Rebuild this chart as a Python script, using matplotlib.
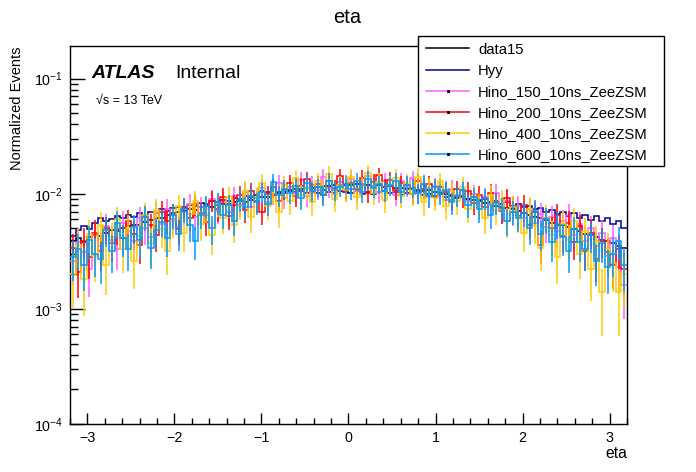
import numpy as np
import matplotlib
matplotlib.use("Agg")
import matplotlib.pyplot as plt
from matplotlib.lines import Line2D
from matplotlib.patches import Rectangle
from matplotlib.ticker import LogLocator, NullFormatter, FixedLocator

plt.rcParams['font.family'] = ['Liberation Sans', 'DejaVu Sans']
plt.rcParams['mathtext.fontset'] = 'custom'
plt.rcParams['mathtext.rm'] = 'Liberation Sans'
plt.rcParams['mathtext.it'] = 'Liberation Sans:italic'

# ---- data (normalized events, units of 1e-3), 100 bins in eta [-3.2, 3.2]
eta_lo, eta_hi, n_bins = -3.2, 3.2, 100

data15 = [3.9, 4.1, 3.8, 4.2, 4.4, 4.3, 4.6, 4.8, 4.7, 5.0,
          5.2, 5.4, 5.3, 5.7, 5.9, 6.2, 6.1, 6.5, 6.8, 7.0,
          7.1, 7.3, 7.2, 7.6, 7.8, 7.7, 8.0, 8.2, 8.1, 8.4,
          8.6, 8.5, 8.9, 9.2, 9.4, 9.3, 9.8, 10.1, 10.3, 10.6,
          10.9, 11.0, 11.3, 11.2, 11.5, 11.7, 11.6, 11.9, 11.8, 12.0,
          11.9, 12.1, 11.8, 11.9, 11.7, 11.8, 11.5, 11.6, 11.3, 11.2,
          11.0, 11.1, 10.8, 10.6, 10.7, 10.3, 10.1, 9.9, 9.6, 9.4,
          9.3, 9.0, 8.8, 8.6, 8.3, 8.1, 7.9, 7.7, 7.5, 7.3,
          7.1, 6.8, 6.6, 6.3, 6.1, 5.9, 5.6, 5.4, 5.3, 5.1,
          4.9, 4.7, 4.5, 4.4, 4.2, 4.0, 3.9, 3.7, 3.5, 3.4]

hyy = [4.3, 4.8, 5.2, 4.9, 5.6, 6.2, 5.8, 6.0, 6.4, 6.1,
       6.5, 6.3, 6.8, 6.6, 7.0, 6.8, 7.3, 7.1, 7.5, 7.7,
       7.6, 8.0, 7.8, 8.3, 8.1, 8.6, 8.4, 8.9, 8.7, 9.2,
       9.0, 9.5, 9.3, 9.8, 10.6, 10.3, 10.0, 10.4, 10.2, 10.7,
       10.3, 10.6, 10.1, 10.5, 10.2, 10.7, 10.4, 10.1, 10.6, 10.3,
       10.2, 10.5, 10.0, 10.4, 9.9, 10.3, 10.6, 10.1, 10.4, 9.8,
       10.2, 9.9, 10.3, 9.7, 10.0, 9.6, 9.9, 9.4, 9.7, 9.2,
       9.5, 9.0, 9.3, 8.8, 9.0, 8.5, 8.7, 8.2, 8.4, 7.9,
       8.1, 7.6, 7.8, 7.3, 7.5, 7.0, 7.2, 6.7, 6.9, 6.4,
       6.8, 6.2, 6.6, 5.9, 6.4, 5.8, 6.1, 5.5, 5.8, 5.0]

hino150 = [2.6, 3.8, 3.1, 2.2, 4.4, 3.5, 5.2, 4.0, 3.3, 5.6,
           4.7, 3.9, 6.1, 5.0, 4.2, 6.8, 5.5, 7.4, 6.0, 5.1,
           7.0, 8.2, 6.3, 7.7, 6.6, 9.0, 7.1, 8.5, 6.9, 9.6,
           8.0, 10.4, 7.6, 9.1, 11.2, 8.4, 10.0, 12.3, 9.2, 11.5,
           10.2, 13.1, 9.6, 12.0, 10.8, 14.0, 11.3, 9.9, 12.6, 11.0,
           13.5, 10.5, 12.2, 14.4, 11.6, 10.3, 13.0, 11.9, 9.8, 12.8,
           11.4, 13.6, 10.1, 12.0, 9.4, 11.7, 10.6, 8.9, 11.1, 9.7,
           10.8, 8.6, 9.9, 7.8, 9.3, 8.2, 10.1, 7.3, 8.7, 6.9,
           7.9, 6.2, 7.4, 5.6, 6.7, 5.1, 6.3, 4.7, 5.8, 6.6,
           4.4, 5.5, 3.9, 5.0, 3.5, 4.6, 2.9, 4.1, 2.3, 1.6]

hino200 = [3.4, 2.1, 3.9, 2.8, 4.6, 3.2, 5.0, 3.7, 4.9, 4.1,
           5.8, 4.5, 3.6, 6.3, 5.3, 4.4, 7.0, 5.8, 6.6, 4.9,
           7.5, 6.2, 8.1, 6.8, 5.7, 8.7, 7.3, 9.4, 6.4, 8.0,
           9.8, 7.2, 10.5, 8.6, 6.9, 9.9, 11.4, 8.7, 10.8, 12.5,
           9.5, 11.7, 13.4, 10.4, 12.1, 9.8, 13.0, 11.2, 14.2, 10.6,
           12.5, 11.0, 13.8, 10.2, 12.7, 14.5, 11.4, 13.2, 10.7, 12.3,
           11.8, 9.9, 13.0, 10.9, 12.2, 9.6, 11.5, 10.4, 8.8, 11.0,
           9.4, 10.6, 8.3, 9.8, 7.6, 10.2, 8.4, 7.1, 9.1, 7.7,
           6.4, 8.0, 5.4, 6.9, 3.6, 6.1, 5.0, 6.6, 4.3, 5.6,
           3.8, 5.2, 3.2, 4.6, 2.7, 3.9, 3.1, 2.4, 3.3, 2.2]

hino400 = [2.0, 3.6, 1.8, 4.5, 2.9, 5.4, 2.4, 4.2, 6.0, 3.3,
           5.0, 2.6, 4.3, 6.6, 3.7, 7.2, 4.9, 3.2, 5.8, 7.8,
           4.6, 6.7, 8.6, 5.5, 7.4, 4.4, 8.2, 6.2, 9.3, 5.3,
           7.8, 10.6, 6.3, 9.4, 12.4, 7.8, 10.4, 6.9, 11.8, 8.6,
           13.6, 9.8, 11.2, 8.4, 12.8, 10.1, 14.8, 9.0, 12.0, 10.8,
           13.9, 9.4, 11.6, 15.2, 10.2, 12.6, 8.8, 11.9, 13.7, 9.6,
           12.4, 10.0, 14.1, 8.4, 11.3, 9.2, 12.8, 7.9, 10.5, 8.6,
           11.5, 7.4, 9.6, 8.0, 6.2, 9.7, 7.2, 8.8, 5.8, 7.6,
           6.3, 4.6, 7.4, 5.2, 3.4, 6.2, 4.4, 2.8, 5.5, 4.0,
           5.8, 3.0, 4.7, 2.2, 3.9, 1.4, 3.3, 2.5, 1.4, 2.0]

hino600 = [2.8, 3.3, 2.4, 4.0, 3.0, 2.7, 4.8, 3.2, 5.6, 4.1,
           3.3, 5.1, 4.0, 6.3, 3.4, 4.8, 5.7, 4.1, 6.6, 4.5,
           7.3, 5.3, 3.9, 6.6, 7.8, 5.0, 8.4, 6.6, 8.0, 5.8,
           8.8, 7.7, 9.5, 8.4, 10.4, 8.2, 12.6, 9.7, 11.0, 10.1,
           11.6, 9.2, 12.3, 10.6, 11.4, 9.8, 12.9, 10.7, 11.5, 12.2,
           10.9, 12.8, 10.4, 13.3, 11.3, 12.1, 10.6, 11.8, 13.0, 10.3,
           12.0, 11.3, 10.2, 12.2, 9.5, 11.4, 9.9, 10.8, 8.4, 9.6,
           10.7, 8.0, 9.3, 7.3, 9.1, 6.6, 8.3, 7.5, 5.8, 7.0,
           6.2, 6.8, 5.0, 7.1, 4.5, 6.0, 3.8, 5.5, 4.2, 3.2,
           4.9, 3.8, 3.3, 4.4, 2.6, 3.7, 2.3, 3.0, 3.9, 2.4]

# effective number of MC entries per signal sample (sets the size of the Poisson error bars)
n_eff = {'Hino_150_10ns_ZeeZSM': 2600, 'Hino_200_10ns_ZeeZSM': 2800,
         'Hino_400_10ns_ZeeZSM': 2100, 'Hino_600_10ns_ZeeZSM': 2500}

series = [('data15', data15, '#000000', False),
          ('Hyy', hyy, '#000099', False),
          ('Hino_150_10ns_ZeeZSM', hino150, '#ff5cff', True),
          ('Hino_200_10ns_ZeeZSM', hino200, '#ff0000', True),
          ('Hino_400_10ns_ZeeZSM', hino400, '#ffcc00', True),
          ('Hino_600_10ns_ZeeZSM', hino600, '#0099ff', True)]

W, H = 696, 472
def fx(x): return x / W
def fy(y): return 1 - y / H

fig = plt.figure(figsize=(W / 100, H / 100), dpi=100)
ax = fig.add_axes([fx(70), fy(424), (627 - 70) / W, (424 - 46) / H])

edges = np.linspace(eta_lo, eta_hi, n_bins + 1)
centers = 0.5 * (edges[:-1] + edges[1:])

for z, (name, vals, col, has_err) in enumerate(series):
    v = np.array(vals) * 1e-3
    ax.stairs(v, edges, baseline=None, color=col, lw=1.1, zorder=2 + z)
    if has_err:
        err = np.sqrt(v / n_eff[name])
        ax.errorbar(centers, v, yerr=err, fmt='none', ecolor=col, elinewidth=1.1,
                    capsize=0, zorder=2 + z)

ax.set_yscale('log')
ax.set_ylim(1e-4, 0.192)
ax.set_xlim(eta_lo, eta_hi)

ax.yaxis.set_major_locator(FixedLocator([1e-4, 1e-3, 1e-2, 1e-1]))
ax.yaxis.set_minor_locator(LogLocator(base=10, subs=np.arange(2, 10)))
ax.yaxis.set_minor_formatter(NullFormatter())
ax.set_yticklabels([r'$10^{-4}$', r'$10^{-3}$', r'$10^{-2}$', r'$10^{-1}$'])
ax.set_xticks([-3, -2, -1, 0, 1, 2, 3])
ax.set_xticklabels(['\u22123', '\u22122', '\u22121', '0', '1', '2', '3'])
ax.set_xticks(np.arange(-3.2, 3.21, 0.2), minor=True)

ax.tick_params(axis='both', which='both', direction='in', top=False, right=False,
               labelsize=10.3, width=1, colors='black')
ax.tick_params(axis='y', which='major', length=11, pad=5)
ax.tick_params(axis='y', which='minor', length=5.5)
ax.tick_params(axis='x', which='major', length=8, pad=5)
ax.tick_params(axis='x', which='minor', length=4)
for s in ax.spines.values():
    s.set_linewidth(1.0)

# titles
fig.text(fx(347), fy(23), 'eta', ha='center', va='baseline', fontsize=14.5)
fig.text(fx(627), fy(458), 'eta', ha='right', va='baseline', fontsize=11.3)
fig.text(fx(17), fy(47), 'Normalized Events', rotation=90, ha='center', va='top',
         fontsize=10.5)

# ATLAS label
fig.text(fx(91), fy(78), 'ATLAS', fontsize=14, fontweight='bold', fontstyle='italic',
         ha='left', va='baseline')
fig.text(fx(175), fy(78), 'Internal', fontsize=14, ha='left', va='baseline')
fig.text(fx(96), fy(104), '\u221as = 13 TeV', fontsize=9, ha='left', va='baseline')

# legend box
lx0, ly0, lx1, ly1 = 418, 36, 664, 166
fig.patches.append(Rectangle((fx(lx0), fy(ly1)), (lx1 - lx0) / W, (ly1 - ly0) / H,
                             transform=fig.transFigure, facecolor='white',
                             edgecolor='black', lw=1.0, zorder=20))
rows = [48.3, 69.5, 90.8, 111.8, 132.8, 154.0]
for (name, vals, col, has_err), ry in zip(series, rows):
    fig.add_artist(Line2D([fx(426), fx(469)], [fy(ry), fy(ry)], color=col, lw=1.1,
                          transform=fig.transFigure, zorder=21))
    if has_err:
        fig.add_artist(Line2D([fx(447.5)], [fy(ry)], marker='s', markersize=1.2,
                              color='black', lw=0, transform=fig.transFigure, zorder=22))
    fig.text(fx(478), fy(ry), name, fontsize=10.7, ha='left', va='center_baseline',
             zorder=22)

fig.savefig('out.png', dpi=100)
